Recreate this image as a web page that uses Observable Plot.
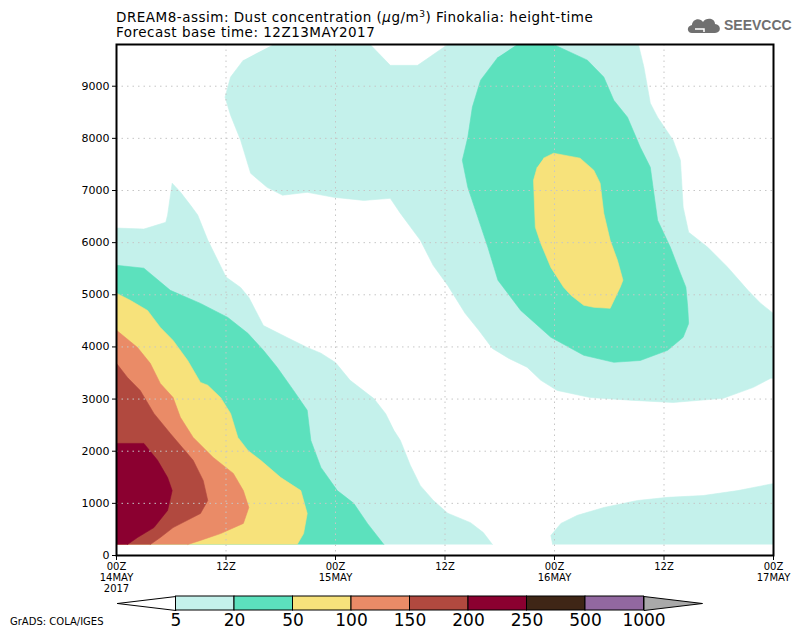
<!DOCTYPE html>
<html><head><meta charset="utf-8">
<script src="https://cdn.jsdelivr.net/npm/d3@7"></script>
<script src="https://cdn.jsdelivr.net/npm/@observablehq/plot@0.6"></script>
<style>
body{margin:0;background:#fff;width:800px;height:639px;overflow:hidden;font-family:"DejaVu Sans",sans-serif;color:#000;position:relative;}
#hdr{position:relative;height:40px;}
.t{position:absolute;left:116px;font-size:13.5px;line-height:14px;letter-spacing:0.5px;white-space:nowrap;}
#t1{top:10px;}
#t2{top:25px;}
sup{font-size:9px;line-height:0;vertical-align:5px;}
#logo{position:absolute;left:686px;top:15px;display:flex;align-items:center;color:#707070;font-family:"Liberation Sans Narrow","Liberation Sans",sans-serif;font-weight:bold;font-size:14px;}
#credit{position:absolute;left:10px;top:616px;font-size:10px;}
#chart svg,#legend svg{display:block;overflow:visible;}
</style></head><body>
<div id="hdr">
  <div class="t" id="t1">DREAM8-assim: Dust concentration (<i>μ</i>g/m<sup>3</sup>) Finokalia: height-time</div>
  <div class="t" id="t2">Forecast base time: 12Z13MAY2017</div>
  <div id="logo"><svg width="36" height="20" viewBox="0 0 36 20"><path d="M6 18 C1 18 0 11 6 10 C6 4 14 2 17 7 C20 2 29 3 29 9 C35 9 36 18 29 18 Z" fill="#707070"/><path d="M9 14 H18 V17" stroke="#fff" stroke-width="1.5" fill="none"/></svg><span style="margin-left:2px">SEEVCCC</span></div>
</div>
<div id="chart"></div>
<div id="legend"></div>
<div id="credit">GrADS: COLA/IGES</div>
<script>
// time axis: hours after 00Z 14MAY2017
const tHours = [0, 12, 24, 36, 48, 60, 72];
const tLabels = ["00Z\n14MAY\n2017", "12Z", "00Z\n15MAY", "12Z", "00Z\n16MAY", "12Z", "00Z\n17MAY"];
const hTicks = [0, 1000, 2000, 3000, 4000, 5000, 6000, 7000, 8000, 9000];

// shading thresholds (ug/m3) and colours
const thresholds = [5, 20, 50, 100, 150, 200, 250, 500, 1000];
const levelColors = ["#c4f1eb", "#5ce1bd", "#f7e27b", "#ea8b67", "#b1493f", "#8b0030", "#3f2616", "#9268a0"];

// contour regions [hours, metres]
const cyanLeft = [[0,210],[0,6280],[3,6260],[5.4,6390],[5.6,6530],[6.1,7140],[7,6970],[8.1,6720],[8.9,6530],[10,6050],[12,5340],[13.6,5140],[14.5,4950],[16.1,4410],[18.7,4180],[20.9,3990],[22.4,3880],[24,3700],[25.6,3360],[28.2,3010],[29.5,2720],[30.4,2400],[31.1,2210],[32.2,1730],[33.3,1340],[34.7,1060],[36.3,810],[38.8,630],[40.2,440],[41.2,210]];
const cyanTop = [[17.2,9800],[27.8,9800],[30,9400],[33,9400],[36.3,9800],[57.2,9800],[57.8,9365],[58.5,8675],[59.3,8405],[61,7965],[61.8,7580],[62.1,6680],[62.7,6200],[64.8,5910],[67,5525],[69.2,5085],[70.6,4835],[72,4640],[72,3400],[71.7,3400],[69.8,3225],[66.5,3015],[61,2935],[56.7,2975],[51.9,3030],[48.3,3165],[46.5,3360],[45,3610],[43,3780],[41.2,3970],[39.7,4320],[38.2,4645],[36.3,5180],[34.7,5565],[33.3,6045],[31.1,6565],[30,6850],[27.1,6810],[23.8,6870],[20.9,6965],[18.2,6910],[16.5,7060],[14.7,7330],[13.6,7965],[12.5,8445],[11.9,8790],[12.5,9175],[13.9,9500]];
const cyanLowRight = [[47.8,210],[47.6,385],[48.7,615],[50.5,770],[53.4,920],[57.1,1055],[60.4,1115],[64.3,1150],[68.1,1245],[72,1380],[72,210]];
const greenLeft = [[0,210],[0,5565],[3,5510],[5.9,5085],[9.2,4835],[12.2,4565],[14.4,4260],[16.1,3935],[17.6,3610],[19.4,3165],[20.9,2785],[21.3,2205],[22.4,1690],[24.2,1245],[26,1000],[27.5,615],[29.3,210]];
const greenOval = [[43.9,9800],[47.9,9800],[51.6,9500],[53.4,9175],[54.5,8730],[56,8405],[57.4,7830],[58.5,7445],[58.8,7060],[59.3,6430],[60.7,5910],[61.8,5410],[62.4,5145],[62.6,4760],[62.7,4450],[62.1,4185],[60.4,3935],[57.4,3740],[54.5,3705],[51.2,3840],[47.6,4185],[44.3,4700],[41.8,5280],[40.7,5910],[39.6,6485],[38.5,7060],[37.9,7580],[38.5,8020],[39,8600],[39.9,9115],[41.8,9555]];
const yellowLeft = [[0,210],[0,5030],[1.5,4895],[3.4,4700],[4.8,4375],[6.2,4125],[7.8,3740],[9.2,3320],[10,3265],[11.4,3030],[12.5,2725],[13.3,2265],[14.4,2015],[15.8,1825],[18,1495],[20.2,1245],[20.9,805],[20.5,420],[19.8,210]];
const yellowOval = [[46.8,7620],[47.9,7715],[50.8,7620],[52.3,7390],[53,7140],[53.4,6565],[54.1,6045],[54.9,5660],[55.5,5280],[55.2,5145],[54.1,4740],[52.3,4760],[51.2,4800],[49.8,4990],[49,5145],[47.6,5525],[46.5,5985],[45.9,6295],[45.7,7195],[46.1,7445]];
const salmonLeft = [[0,210],[0,4320],[2.3,3990],[3.7,3685],[4.8,3300],[6.2,3030],[7,2650],[8.4,2265],[10.6,1880],[12.8,1575],[13.9,1245],[14.5,920],[13.9,615],[11.4,420],[9.2,290],[7.8,210]];
const brownLeft = [[0,210],[0,3685],[1.2,3415],[2.6,3165],[4.1,2725],[5.9,2340],[8.4,1825],[9.5,1440],[10,1055],[9.2,805],[6.2,535],[4.8,345],[3.7,210]];
const crimsonLeft = [[0,210],[0,2150],[3,2150],[4.5,1825],[5.6,1495],[6.1,1245],[5.6,865],[4.1,535],[2.3,345],[1.2,210]];

const regions = [
  {level: 0, pts: cyanLeft}, {level: 0, pts: cyanTop}, {level: 0, pts: cyanLowRight},
  {level: 1, pts: greenLeft}, {level: 1, pts: greenOval},
  {level: 2, pts: yellowLeft}, {level: 2, pts: yellowOval},
  {level: 3, pts: salmonLeft}, {level: 4, pts: brownLeft}, {level: 5, pts: crimsonLeft}
];

const chart = Plot.plot({
  width: 800, height: 555,
  marginLeft: 116, marginRight: 27, marginTop: 4, marginBottom: 40,
  style: {fontFamily: "DejaVu Sans, sans-serif", fontSize: "11px", color: "black", background: "white", overflow: "visible"},
  x: {domain: [0, 72]},
  y: {domain: [0, 9800]},
  marks: [
    ...regions.map(r => Plot.line(r.pts, {x: d => d[0], y: d => d[1], fill: levelColors[r.level], stroke: levelColors[r.level], strokeWidth: 0.6, clip: true})),
    Plot.gridY(hTicks.slice(1), {stroke: "#c6c6c6", strokeOpacity: 1, strokeDasharray: "1.5,4"}),
    Plot.gridX(tHours.slice(1, -1), {stroke: "#c6c6c6", strokeOpacity: 1, strokeDasharray: "1.5,4"}),
    Plot.axisY({ticks: hTicks, tickSize: 4, tickPadding: 3, label: null, tickFormat: d => String(d)}),
    Plot.axisX({ticks: tHours, tickSize: 5, tickPadding: 2, label: null, fontSize: 10, lineHeight: 1.08, tickFormat: d => tLabels[tHours.indexOf(d)]}),
    Plot.frame({stroke: "black", strokeWidth: 2})
  ]
});
document.getElementById("chart").append(chart);

// colour bar
const boxes = levelColors.map((c, i) => ({i, c}));
const legend = Plot.plot({
  width: 800, height: 44,
  marginLeft: 117, marginRight: 98, marginTop: 1, marginBottom: 29,
  style: {fontFamily: "DejaVu Sans, sans-serif", background: "white", overflow: "visible"},
  x: {domain: [0, 10], axis: null},
  y: {domain: [0, 1], axis: null},
  color: {type: "identity"},
  marks: [
    Plot.line([[0, 0.5], [1, 1], [1, 0], [0, 0.5]], {x: d => d[0], y: d => d[1], fill: "white", stroke: "black", strokeWidth: 1}),
    Plot.rect(boxes, {x1: d => d.i + 1, x2: d => d.i + 2, y1: 0, y2: 1, fill: d => d.c, stroke: "black", strokeWidth: 1}),
    Plot.line([[9, 1], [10, 0.5], [9, 0], [9, 1]], {x: d => d[0], y: d => d[1], fill: "#a9a9a9", stroke: "black", strokeWidth: 1}),
    Plot.text(thresholds, {x: (d, i) => i + 1, y: 0, text: d => String(d), lineAnchor: "top", dy: 3, fontSize: 17})
  ]
});
document.getElementById("legend").append(legend);
</script>
</body></html>
